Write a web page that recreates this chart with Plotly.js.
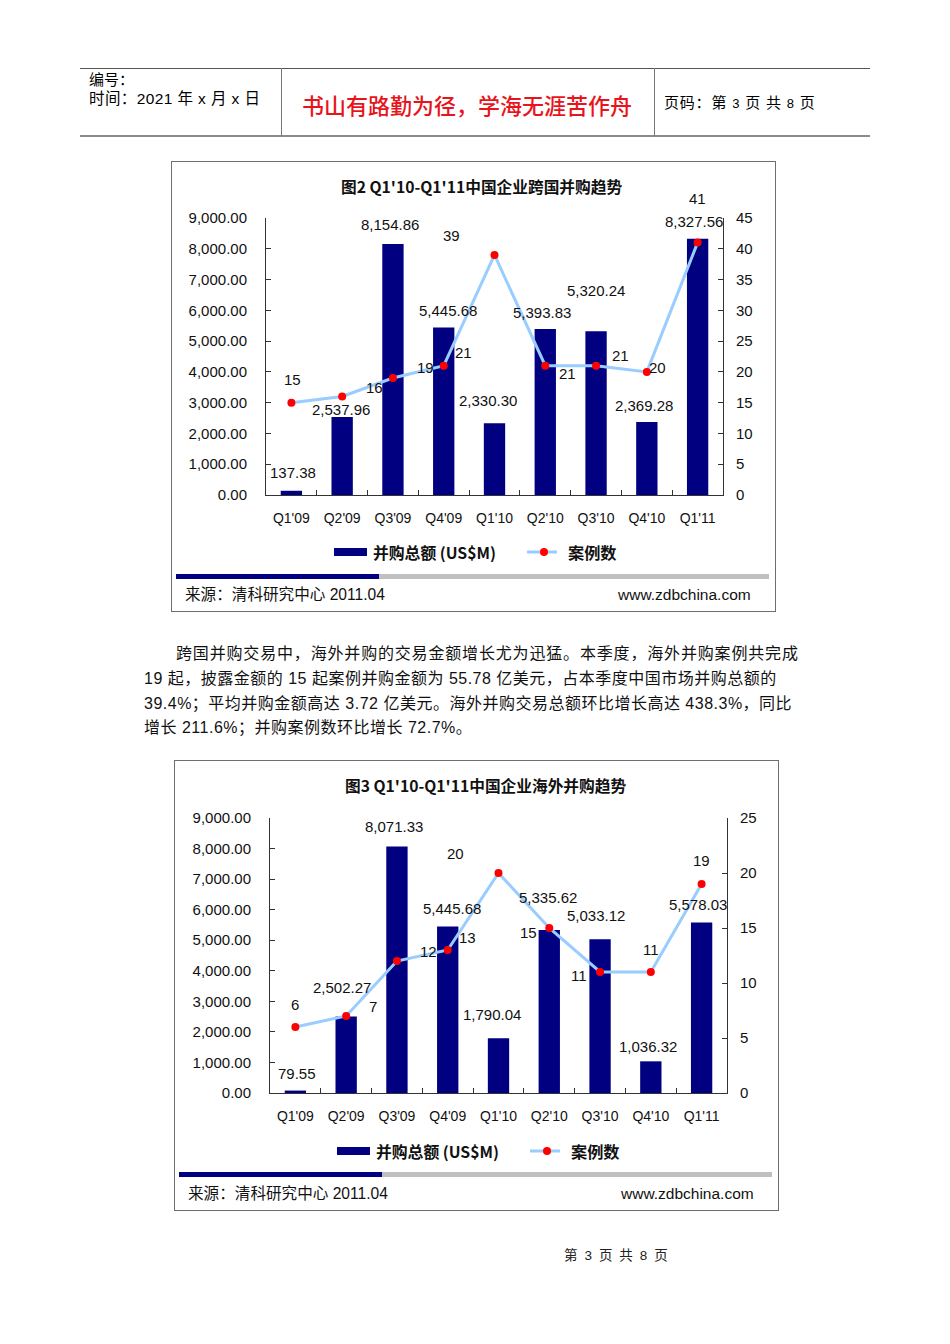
<!DOCTYPE html>
<html><head><meta charset="utf-8">
<script src="https://cdn.plot.ly/plotly-3.0.1.min.js"></script>
<style>
body{margin:0;background:#fff;width:950px;height:1344px;position:relative;overflow:hidden;font-family:"Liberation Sans",Arial,"Noto Sans CJK SC",sans-serif;color:#000}
.abs{position:absolute;white-space:nowrap}
.box{position:absolute;width:603px;height:449px;border:1px solid #6e6e6e;background:#fff}
.chart{width:603px;height:449px}
.ln{position:absolute}
.p{position:absolute;white-space:nowrap;font-size:16px;line-height:16px;color:#111;letter-spacing:0.5px}
</style></head><body>

<!-- header table -->
<div class="ln" style="left:80px;top:68px;width:790px;height:1px;background:#555"></div>
<div class="ln" style="left:80px;top:135px;width:790px;height:2px;background:#8a8a8a"></div>
<div class="ln" style="left:281px;top:68px;width:1px;height:68px;background:#777"></div>
<div class="ln" style="left:654px;top:68px;width:1px;height:68px;background:#777"></div>
<div class="abs" style="left:89px;top:72px;font-size:15px;line-height:16px">编号：</div>
<div class="abs" style="left:89px;top:91px;font-size:15.5px;line-height:16px;letter-spacing:0.4px">时间：2021 年 x 月 x 日</div>
<div class="abs" style="left:302px;top:92px;font-size:22px;line-height:24px;color:#e8141b;font-family:'Noto Sans CJK SC',sans-serif;font-weight:500">书山有路勤为径，学海无涯苦作舟</div>
<div class="abs" style="left:664px;top:95px;font-size:15px;line-height:16px;letter-spacing:0.8px">页码：第 <span style="font-size:13px">3</span> 页 共 <span style="font-size:13px">8</span> 页</div>

<!-- chart 1 -->
<div class="box" style="left:171px;top:161px"><div id="c1" class="chart"></div></div>

<!-- paragraph -->
<div class="p" style="left:176px;top:646px;letter-spacing:0.83px">跨国并购交易中，海外并购的交易金额增长尤为迅猛。本季度，海外并购案例共完成</div>
<div class="p" style="left:144px;top:671px">19 起，披露金额的 15 起案例并购金额为 55.78 亿美元，占本季度中国市场并购总额的</div>
<div class="p" style="left:144px;top:696px">39.4%；平均并购金额高达 3.72 亿美元。海外并购交易总额环比增长高达 438.3%，同比</div>
<div class="p" style="left:144px;top:720px">增长 211.6%；并购案例数环比增长 72.7%。</div>

<!-- chart 2 -->
<div class="box" style="left:174px;top:760px"><div id="c2" class="chart"></div></div>

<div class="abs" style="left:564px;top:1249px;font-size:13.5px;line-height:14px;color:#222;letter-spacing:1.6px">第 3 页 共 8 页</div>

<script>
// ---- data ----
const quarters = ["Q1'09","Q2'09","Q3'09","Q4'09","Q1'10","Q2'10","Q3'10","Q4'10","Q1'11"];
const crossBorderAmount = [137.38, 2537.96, 8154.86, 5445.68, 2330.30, 5393.83, 5320.24, 2369.28, 8327.56];
const crossBorderCount = [15, 16, 19, 21, 39, 21, 21, 20, 41];
const overseasAmount = [79.55, 2502.27, 8071.33, 5445.68, 1790.04, 5335.62, 5033.12, 1036.32, 5578.03];
const overseasCount = [6, 7, 12, 13, 20, 15, 11, 11, 19];
const amountName = "并购总额 (US$M)";
const countName = "案例数";
const title1 = "图2 Q1'10-Q1'11中国企业跨国并购趋势";
const title2 = "图3 Q1'10-Q1'11中国企业海外并购趋势";
const sourceText = "来源：清科研究中心 2011.04";
const siteText = "www.zdbchina.com";

// label offsets (pixels: [dx, up]) — placement only
const amtOff1 = [[2,18],[-1,7],[-3,20],[4,17],[-7,23],[-3,16],[0,41],[-3,17],[-4,17]];
const cntOff1 = [[1,23],[32,9],[33,11],[20,13],[-43,19],[22,-8],[24,10],[11,4],[0,44]];
const amtOff2 = [[2,17],[-4,29],[-3,20],[4,18],[-7,24],[-1,32],[-4,24],[-3,15],[-4,18]];
const cntOff2 = [[0,23],[27,10],[32,10],[20,13],[-43,20],[-21,-4],[-21,-3],[0,23],[0,24]];

const LAT = "Liberation Sans, Arial, Noto Sans CJK SC, sans-serif";
const CJK = "Noto Sans CJK SC, Liberation Sans, sans-serif";
const fmt = v => v.toLocaleString('en-US',{minimumFractionDigits:2,maximumFractionDigits:2});

function drawChart(id, o){
  const W=603, H=449, m=o.margin;
  const pw=W-m.l-m.r, ph=H-m.t-m.b;
  const px=x=>(x-m.l)/pw, py=y=>(H-m.b-y)/ph;
  const traces=[
    {type:'bar', name:amountName, x:quarters, y:o.amount, marker:{color:'#000080'}, width:0.42, hoverinfo:'skip'},
    {type:'scatter', name:countName, mode:'lines+markers', x:quarters, y:o.count, yaxis:'y2',
     line:{color:'#99ccff', width:3}, marker:{color:'#ff0000', size:8}, hoverinfo:'skip'}
  ];
  const ann=[];
  o.amount.forEach((v,i)=>ann.push({xref:'x',yref:'y',x:quarters[i],y:v,text:fmt(v),showarrow:false,
    xshift:o.amtOff[i][0],yshift:o.amtOff[i][1],font:{size:15,family:LAT,color:'#111'}}));
  o.count.forEach((v,i)=>ann.push({xref:'x',yref:'y2',x:quarters[i],y:v,text:String(v),showarrow:false,
    xshift:o.cntOff[i][0],yshift:o.cntOff[i][1],font:{size:15,family:LAT,color:'#111'}}));
  // title
  ann.push({xref:'paper',yref:'paper',x:px(o.titleX),y:py(25),text:'<b>'+o.title+'</b>',showarrow:false,
    xanchor:'center',yanchor:'middle',font:{size:15.7,family:CJK,color:'#111'}});
  // legend texts
  ann.push({xref:'paper',yref:'paper',x:px(199),y:py(390),text:'<b>'+amountName+'</b>',showarrow:false,
    xanchor:'left',yanchor:'middle',font:{size:15.8,family:CJK,color:'#111'}});
  ann.push({xref:'paper',yref:'paper',x:px(394),y:py(390),text:'<b>'+countName+'</b>',showarrow:false,
    xanchor:'left',yanchor:'middle',font:{size:16.2,family:CJK,color:'#111'}});
  // source
  ann.push({xref:'paper',yref:'paper',x:px(11),y:py(432),text:sourceText,showarrow:false,
    xanchor:'left',yanchor:'middle',font:{size:15.6,family:LAT,color:'#111'}});
  ann.push({xref:'paper',yref:'paper',x:px(581),y:py(432),text:siteText,showarrow:false,
    xanchor:'right',yanchor:'middle',font:{size:15.5,family:LAT,color:'#111'}});

  const shapes=[
    {type:'rect',xref:'paper',yref:'paper',x0:px(162),x1:px(195),y0:py(394),y1:py(386),fillcolor:'#000080',line:{width:0}},
    {type:'line',xref:'paper',yref:'paper',x0:px(355),x1:px(385),y0:py(390),y1:py(390),line:{color:'#99ccff',width:3}},
    {type:'circle',xref:'paper',yref:'paper',x0:px(368),x1:px(376),y0:py(394),y1:py(386),fillcolor:'#ff0000',line:{width:0}},
    {type:'rect',xref:'paper',yref:'paper',x0:px(4),x1:px(207),y0:py(o.sepY+3),y1:py(o.sepY-2),fillcolor:'#000080',line:{width:0}},
    {type:'rect',xref:'paper',yref:'paper',x0:px(207),x1:px(597),y0:py(o.sepY+3),y1:py(o.sepY-2),fillcolor:'#c0c0c0',line:{width:0}}
  ];
  const axFont={size:15,family:LAT,color:'#111'};
  const layout={
    width:W, height:H, margin:m, paper_bgcolor:'#fff', plot_bgcolor:'rgba(0,0,0,0)',
    showlegend:false, bargap:0.58,
    xaxis:{type:'category', range:[-0.5,8.5], showline:true, linecolor:'#333', linewidth:1,
      ticks:'inside', tickson:'boundaries', ticklen:5, tickcolor:'#333', showgrid:false,
      tickfont:{size:14,family:LAT,color:'#111'}, ticklabelstandoff:10},
    yaxis:{range:[0,9000], dtick:1000, tickformat:',.2f', showline:true, linecolor:'#333', linewidth:1,
      ticks:'inside', ticklen:5, tickcolor:'#333', showgrid:false, zeroline:false,
      tickfont:axFont, ticklabelstandoff:15},
    yaxis2:{overlaying:'y', side:'right', range:[0,o.cmax], dtick:5, showline:true, linecolor:'#333', linewidth:1,
      ticks:'inside', ticklen:5, tickcolor:'#333', showgrid:false, zeroline:false,
      tickfont:axFont, ticklabelstandoff:9},
    annotations:ann, shapes:shapes
  };
  Plotly.newPlot(id, traces, layout, {staticPlot:true, displayModeBar:false});
}

drawChart('c1',{amount:crossBorderAmount,count:crossBorderCount,amtOff:amtOff1,cntOff:cntOff1,
  margin:{l:94,r:52,t:56,b:116}, cmax:45, title:title1, titleX:309, sepY:414});
drawChart('c2',{amount:overseasAmount,count:overseasCount,amtOff:amtOff2,cntOff:cntOff2,
  margin:{l:95,r:51,t:57,b:117}, cmax:25, title:title2, titleX:310, sepY:413});
</script>
</body></html>
